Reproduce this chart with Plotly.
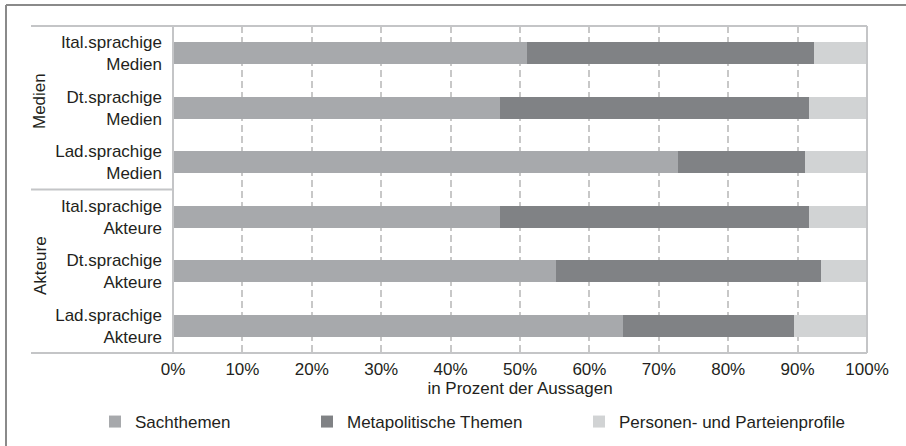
import plotly.graph_objects as go

# Share of statements per topic type (percent)
categories = [
    "Ital.sprachige<br>Medien",
    "Dt.sprachige<br>Medien",
    "Lad.sprachige<br>Medien",
    "Ital.sprachige<br>Akteure",
    "Dt.sprachige<br>Akteure",
    "Lad.sprachige<br>Akteure",
]
sachthemen = [51.0, 47.1, 72.8, 47.1, 55.2, 64.9]
metapolitisch = [41.3, 44.6, 18.2, 44.5, 38.1, 24.6]
personen = [7.7, 8.3, 9.0, 8.4, 6.7, 10.5]

series_names = ["Sachthemen", "Metapolitische Themen", "Personen- und Parteienprofile"]
series_values = [sachthemen, metapolitisch, personen]
series_colors = ["#a7a9ac", "#808285", "#d1d3d4"]

group_labels = ["Medien", "Akteure"]

W, H = 906, 446
L, R, T, B = 173, 39, 26, 93
PW, PH = W - L - R, H - T - B


def px_x(px):
    return (px - L) / PW


def px_y(py):
    return (H - B - py) / PH


TEXT = "#231f20"
FONT = "Liberation Sans, Arial, Helvetica, sans-serif"
LINE = "#c4c5c7"

fig = go.Figure()
legend_ids = ["legend", "legend2", "legend3"]
for name, vals, col, lg in zip(series_names, series_values, series_colors, legend_ids):
    fig.add_trace(go.Bar(
        y=categories, x=vals, name=name, orientation="h",
        marker=dict(color=col, line=dict(width=0)),
        width=0.4, legend=lg, showlegend=True,
    ))

shapes = []
# frame around plot and label column
for py in (26, 189.5, 353):
    shapes.append(dict(type="line", xref="paper", yref="paper",
                       x0=px_x(31), x1=1 if py != 189.5 else 0, y0=px_y(py), y1=px_y(py),
                       line=dict(color=LINE, width=2)))
for px in (L, L + PW):
    shapes.append(dict(type="line", xref="paper", yref="paper",
                       x0=px_x(px), x1=px_x(px), y0=0, y1=1,
                       line=dict(color=LINE, width=2)))
# outer border (left and top)
shapes.append(dict(type="line", xref="paper", yref="paper",
                   x0=px_x(6), x1=px_x(6), y0=px_y(5), y1=px_y(H + 5),
                   line=dict(color="#8a8a8a", width=2)))
shapes.append(dict(type="line", xref="paper", yref="paper",
                   x0=px_x(6), x1=px_x(W + 5), y0=px_y(5), y1=px_y(5),
                   line=dict(color="#8a8a8a", width=2)))

annotations = [
    dict(text=group_labels[0], xref="paper", yref="paper", x=px_x(40), y=px_y(101),
         textangle=-90, showarrow=False, font=dict(size=17, color=TEXT, family=FONT),
         xanchor="center", yanchor="middle"),
    dict(text=group_labels[1], xref="paper", yref="paper", x=px_x(40), y=px_y(266),
         textangle=-90, showarrow=False, font=dict(size=17, color=TEXT, family=FONT),
         xanchor="center", yanchor="middle"),
]

legend_style = dict(orientation="h", xref="container", yref="container",
                    yanchor="middle", xanchor="left", bgcolor="rgba(0,0,0,0)",
                    font=dict(size=17, color=TEXT, family=FONT))
leg_y = 1 - 422 / H
fig.update_layout(
    width=W, height=H,
    margin=dict(l=L, r=R, t=T, b=B),
    barmode="stack",
    showlegend=True,
    plot_bgcolor="white", paper_bgcolor="white",
    font=dict(family=FONT, size=17, color=TEXT),
    shapes=shapes, annotations=annotations,
    legend=dict(**legend_style, x=(109 - 14) / W, y=leg_y),
    legend2=dict(**legend_style, x=(321 - 14) / W, y=leg_y),
    legend3=dict(**legend_style, x=(593 - 14) / W, y=leg_y),
    xaxis=dict(
        range=[0, 100], dtick=10, ticksuffix="%",
        showgrid=True, gridcolor="#c8c8c8", gridwidth=2, griddash="7px,4px",
        zeroline=False, showline=False, ticks="", ticklabelstandoff=4,
        tickfont=dict(size=17, color=TEXT),
        title=dict(text="in Prozent der Aussagen", font=dict(size=17, color=TEXT), standoff=2),
    ),
    yaxis=dict(
        autorange="reversed", showgrid=False, zeroline=False, showline=False,
        ticks="", ticklabelstandoff=10,
        tickfont=dict(size=17, color=TEXT),
    ),
)

fig.write_html("out.html")
